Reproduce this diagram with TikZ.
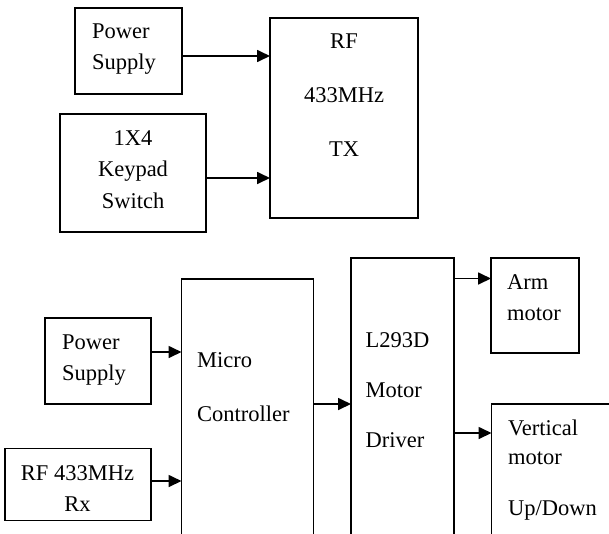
\documentclass[tikz,border=0pt]{standalone}
\usepackage{fontspec}
\setmainfont{Liberation Serif}
\usetikzlibrary{arrows.meta}
\tikzstyle{block} = [draw, line width=1.7pt, inner sep=0pt, outer sep=0pt]
\tikzstyle{boxtext} = [inner sep=0pt, font=\fontsize{22.5pt}{31pt}\selectfont]
\tikzstyle{arrow} = [line width=1.7pt, -{Triangle[length=13pt,width=12pt]}]

\begin{document}
\begin{tikzpicture}[x=1pt, y=-1pt]
\useasboundingbox (0,0) rectangle (609,533);
\clip (0,0) rectangle (609,533);

% transmitter
\node[block, minimum width=107pt, minimum height=86pt] (ps1) at (128.5,51) {};
\node[block, minimum width=146pt, minimum height=118pt] (kp) at (133,173) {};
\node[block, minimum width=148pt, minimum height=200pt] (tx) at (344,118) {};
\node[boxtext, anchor=north west, align=left] (ps1t) at (92,24) {Power\\Supply};
\node[boxtext, anchor=north, align=center] (kpt) at (133,130) {1X4\\[0.5pt]Keypad\\[0.5pt]Switch};
\node[boxtext, anchor=north, align=center] (txt) at (344,33.5) {RF\\[23pt]433MHz\\[23pt]TX};

\draw[arrow] ([yshift=-5pt]ps1.east) coordinate (a) -- (a -| tx.west);
\draw[arrow] ([yshift=-5pt]kp.east) coordinate (a) -- (a -| tx.west);

% receiver
\node[block, minimum width=106pt, minimum height=86pt] (ps2) at (98,361) {};
\node[block, minimum width=146pt, minimum height=72pt] (rx) at (78,484.5) {};
\node[block, minimum width=132pt, minimum height=292pt] (mc) at (247.5,425) {};
\node[block, minimum width=103pt, minimum height=312pt] (drv) at (402.5,414) {};
\node[block, minimum width=88pt, minimum height=95pt] (arm) at (535,305.5) {};
\node[block, minimum width=149pt, minimum height=166pt] (vm) at (566,487) {};
\node[boxtext, anchor=north west, align=left] (ps2t) at (62,335) {Power\\Supply};
\node[boxtext, anchor=north, align=center] (rxt) at (77.5,465) {RF 433MHz\\Rx};
\node[boxtext, anchor=north west, align=left] (mct) at (197,352) {Micro\\[23pt]Controller};
\node[boxtext, anchor=north west, align=left] (drvt) at (365.5,332) {L293D\\[19.3pt]Motor\\[19.3pt]Driver};
\node[boxtext, anchor=north west, align=left] (armt) at (507,274) {Arm\\motor};
\node[boxtext, anchor=north west, align=left] (vmt) at (508,420) {Vertical\\[-2.7pt]motor\\[20pt]Up/Down};

\draw[arrow] ([yshift=9pt]ps2.east) coordinate (a) -- (a -| mc.west);
\draw[arrow] ([yshift=3.5pt]rx.east) coordinate (a) -- (a -| mc.west);
\draw[arrow] ([yshift=21pt]mc.east) coordinate (a) -- (a -| drv.west);
\coordinate (b) at ([yshift=27pt]arm.west);
\draw[arrow] (b -| drv.east) -- (b);
\coordinate (b) at ([yshift=54pt]vm.west);
\draw[arrow] (b -| drv.east) -- (b);
\end{tikzpicture}
\end{document}
